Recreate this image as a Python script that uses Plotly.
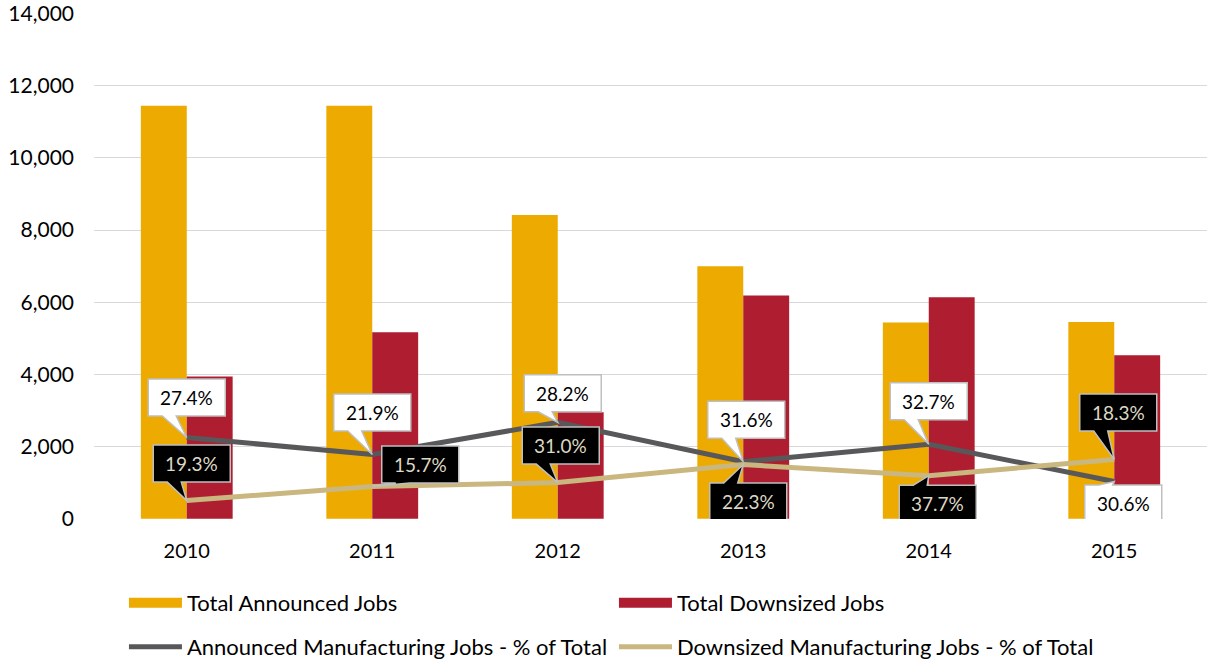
import plotly.graph_objects as go

years = ["2010", "2011", "2012", "2013", "2014", "2015"]
total_announced = [11450, 11450, 8420, 7000, 5440, 5450]
total_downsized = [3940, 5170, 2950, 6190, 6140, 4530]
announced_mfg = [2250, 1780, 2670, 1580, 2060, 1030]
downsized_mfg = [500, 890, 1000, 1500, 1190, 1640]
announced_mfg_labels = ["27.4%", "21.9%", "28.2%", "31.6%", "32.7%", "30.6%"]
downsized_mfg_labels = ["19.3%", "15.7%", "31.0%", "22.3%", "37.7%", "18.3%"]
y_ticks = [0, 2000, 4000, 6000, 8000, 10000, 12000, 14000]

# callout box offsets (screen pixels, x right / y down) relative to each point
white_offsets = [(0, -40), (0, -42), (5, -29), (3, -42), (0, -43), (9, 22)]
black_offsets = [(5, -37), (48, -22), (3, -37), (5, 37), (9, 28), (4, -47)]

GOLD = "#EDAA00"
RED = "#AE1E30"
GRAY = "#58585A"
TAN = "#C9B77F"
FONT = "Lato"

fig = go.Figure()
fig.add_trace(go.Bar(x=years, y=total_announced, name="Total Announced Jobs",
                     marker=dict(color=GOLD, line=dict(width=0)), showlegend=False))
fig.add_trace(go.Bar(x=years, y=total_downsized, name="Total Downsized Jobs",
                     marker=dict(color=RED, line=dict(width=0)), showlegend=False))
fig.add_trace(go.Scatter(x=years, y=announced_mfg, mode="lines",
                         name="Announced Manufacturing Jobs - % of Total",
                         line=dict(color=GRAY, width=5), legend="legend2"))
fig.add_trace(go.Scatter(x=years, y=downsized_mfg, mode="lines",
                         name="Downsized Manufacturing Jobs - % of Total",
                         line=dict(color=TAN, width=5), legend="legend2"))
# legend swatches for the bar series (wide rectangles like the reference)
fig.add_trace(go.Scatter(x=[None], y=[None], mode="lines", name="Total Announced Jobs",
                         line=dict(color=GOLD, width=14), legend="legend",
                         hoverinfo="skip"))
fig.add_trace(go.Scatter(x=[None], y=[None], mode="lines", name="Total Downsized Jobs",
                         line=dict(color=RED, width=14), legend="legend",
                         hoverinfo="skip"))

W, H = 77, 37


def callout_path(dx, dy):
    L, R = dx - W / 2, dx + W / 2
    T, B = dy - H / 2, dy + H / 2
    t0, t1 = L + 14, L + 28
    if dy < 0:
        pts = [(L, T), (R, T), (R, B), (t1, B), (0, 0), (t0, B), (L, B)]
    else:
        pts = [(L, T), (t0, T), (0, 0), (t1, T), (R, T), (R, B), (L, B)]
    return "M " + " L ".join(f"{x:.1f},{-y:.1f}" for x, y in pts) + " Z"


shapes = []
annotations = []
for series, labels, offsets, fill, tcolor in [
    (announced_mfg, announced_mfg_labels, white_offsets, "white", "#000000"),
    (downsized_mfg, downsized_mfg_labels, black_offsets, "black", "#DDD8C4"),
]:
    for i, (val, lab, (dx, dy)) in enumerate(zip(series, labels, offsets)):
        shapes.append(dict(type="path", xref="x", yref="y", xsizemode="pixel",
                           ysizemode="pixel", xanchor=i, yanchor=val,
                           path=callout_path(dx, dy), fillcolor=fill,
                           line=dict(color="#BFBFBF", width=1.5), layer="above"))
        annotations.append(dict(x=i, y=val, xref="x", yref="y", text=lab,
                                showarrow=False, xshift=dx, yshift=-dy,
                                font=dict(family=FONT, size=19, color=tcolor)))

leg_common = dict(orientation="h", xref="container", yref="container",
                  x=0.1027, xanchor="left", yanchor="middle",
                  entrywidth=422, entrywidthmode="pixels", itemwidth=53,
                  font=dict(family=FONT, size=22, color="#000000"),
                  bgcolor="rgba(0,0,0,0)")

fig.update_layout(
    width=1207, height=660,
    margin=dict(l=94, r=0, t=13.28, b=140.64, autoexpand=False),
    paper_bgcolor="white", plot_bgcolor="white",
    barmode="group", bargap=0.505, bargroupgap=0,
    font=dict(family=FONT, size=20, color="#000000"),
    shapes=shapes, annotations=annotations,
    showlegend=True,
    legend=dict(leg_common, y=1 - 603 / 660),
    legend2=dict(leg_common, y=1 - 647 / 660),
    xaxis=dict(type="category", categoryorder="array", categoryarray=years,
               range=[-0.5, 5.5], showgrid=False, showline=False, ticks="",
               automargin=False,
               ticklabelstandoff=18, tickfont=dict(family=FONT, size=20)),
    yaxis=dict(range=[-10, 14020], tickvals=y_ticks, tickformat=",d",
               showgrid=True, gridcolor="#D9D9D9", gridwidth=1.3,
               zeroline=False, showline=False, ticks="", automargin=False,
               ticklabelstandoff=19, tickfont=dict(family=FONT, size=21)),
)

fig.write_html("out.html", config={"displayModeBar": False},
               post_script="document.body.style.margin='0px';document.body.style.overflow='hidden';")
